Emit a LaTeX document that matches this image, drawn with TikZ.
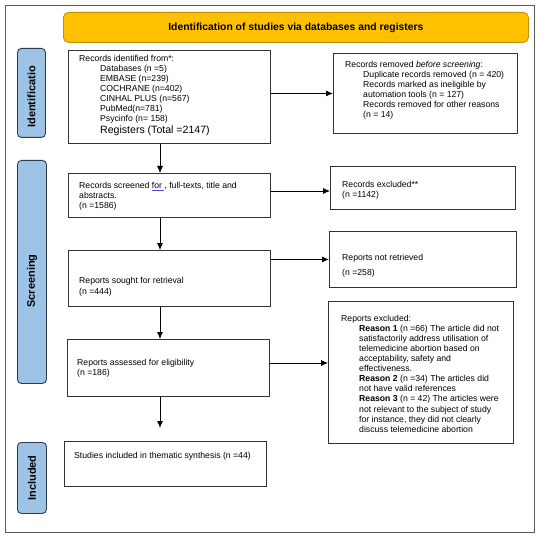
\documentclass[tikz,border=0pt]{standalone}
\usepackage{fontspec}
\setmainfont{Liberation Sans}
\usetikzlibrary{arrows.meta,calc}
\definecolor{banner}{HTML}{FFC000}
\definecolor{bannerline}{HTML}{C09100}
\definecolor{side}{HTML}{9DC3E6}
\definecolor{sideline}{HTML}{2F3B4A}
\definecolor{frameline}{HTML}{595959}
\definecolor{boxline}{HTML}{333333}
\begin{document}
\begin{tikzpicture}[x=1bp,y=-1bp,
  box/.style={draw=boxline, line width=0.9bp, anchor=north west, inner sep=0pt},
  txt/.style={anchor=north west, align=left, inner sep=0pt, font=\fontsize{8.7}{10.1}\selectfont},
  arr/.style={-{Latex[length=7bp,width=6bp]}, line width=0.8bp, draw=black},
  sidebox/.style={draw=sideline, fill=side, rounded corners=4bp, line width=0.9bp, anchor=north west, inner sep=0pt},
  sidetxt/.style={rotate=90, font=\fontsize{11}{13}\selectfont\bfseries, inner sep=0pt}
]
\useasboundingbox (0,0) rectangle (558,539);
% frame
\node[draw=frameline, line width=1bp, anchor=north west, minimum width=529bp, minimum height=527bp, inner sep=0pt] (frame) at (5,5) {};
% banner
\node[draw=bannerline, fill=banner, rounded corners=5bp, line width=0.8bp, anchor=north west, minimum width=465bp, minimum height=30bp, inner sep=0pt, font=\fontsize{10.4}{12}\selectfont\bfseries] (banner) at (63,12) {Identification of studies via databases and registers};
% side labels
\node[sidebox, minimum width=28bp, minimum height=89bp] (sid) at (17,48) {};
\node[sidetxt] (sidt) at ($(sid.center)+(0,4)$) {Identificatio};
\node[sidebox, minimum width=29bp, minimum height=223bp] (sscr) at (17,160) {};
\node[sidetxt] (sscrt) at ($(sscr.center)+(0,9)$) {Screening};
\node[sidebox, minimum width=29bp, minimum height=71bp] (sinc) at (17,442) {};
\node[sidetxt] (sinct) at (sinc.center) {Included};
% boxes
\node[box, minimum width=202bp, minimum height=93bp] (b1) at (68,50) {};
\node[box, minimum width=184bp, minimum height=80bp] (b2) at (333,53) {};
\node[box, minimum width=202bp, minimum height=44bp] (b3) at (68,173) {};
\node[box, minimum width=185bp, minimum height=43bp] (b4) at (330,166) {};
\node[box, minimum width=202bp, minimum height=56bp] (b5) at (68,250) {};
\node[box, minimum width=187bp, minimum height=56bp] (b6) at (329,231) {};
\node[box, minimum width=202bp, minimum height=57bp] (b7) at (67,339) {};
\node[box, minimum width=185bp, minimum height=142bp] (b8) at (328,301) {};
\node[box, minimum width=202bp, minimum height=45bp] (b9) at (64,441) {};
% texts
\node[txt] (t1) at (79,55) {Records identified from*:\\
\hspace*{21bp}Databases (n =5)\\
\hspace*{21bp}EMBASE (n=239)\\
\hspace*{21bp}COCHRANE (n=402)\\
\hspace*{21bp}CINHAL PLUS (n=567)\\
\hspace*{21bp}PubMed(n=781)\\
\hspace*{21bp}Psycinfo (n= 158)\\[2bp]
\hspace*{21bp}{\fontsize{10.6}{12}\selectfont Registers (Total =2147)}};
\node[txt] (t2) at (345,61) {Records removed \textit{before screening}:\\
\hspace*{18bp}Duplicate records removed (n = 420)\\
\hspace*{18bp}Records marked as ineligible by\\
\hspace*{18bp}automation tools (n = 127)\\
\hspace*{18bp}Records removed for other reasons\\
\hspace*{18bp}(n = 14)};
\node[txt] (t3) at (79,182) {Records screened {\color{blue!70!white}\underline{\textcolor{black}{for\ }}}, full-texts, title and\\abstracts.\\(n =1586)};
\node[txt] (t4) at (342,181) {Records excluded**\\(n =1142)};
\node[txt] (t5) at (342,254) {Reports not retrieved\\[5bp](n =258)};
\node[txt] (t6) at (79,277) {Reports sought for retrieval\\[1bp](n =444)};
\node[txt] (t7) at (77,359) {Reports assessed for eligibility\\(n =186)};
\node[txt] (t8) at (341,315) {Reports excluded:\\
\hspace*{18bp}\textbf{Reason 1} (n =66) The article did not\\
\hspace*{18bp}satisfactorily address utilisation of\\
\hspace*{18bp}telemedicine abortion based on\\
\hspace*{18bp}acceptability, safety and\\
\hspace*{18bp}effectiveness.\\
\hspace*{18bp}\textbf{Reason 2} (n =34) The articles did\\
\hspace*{18bp}not have valid references\\
\hspace*{18bp}\textbf{Reason 3} (n = 42) The articles were\\
\hspace*{18bp}not relevant to the subject of study\\
\hspace*{18bp}for instance, they did not clearly\\
\hspace*{18bp}discuss telemedicine abortion};
\node[txt] (t9) at (74,452) {Studies included in thematic synthesis (n =44)};
% connectors
\coordinate (colx) at (160,0);
\coordinate (r2) at (0,191);
\coordinate (r4) at (0,363);
\coordinate (endin) at (160,428);
\draw[arr] (b1.south -| colx) -- (b3.north -| colx);
\draw[arr] (b3.south -| colx) -- (b5.north -| colx);
\draw[arr] (b5.south -| colx) -- (b7.north -| colx);
\draw[arr] (b7.south -| colx) -- (endin);
\draw[arr] (b1.east |- b2.west) -- (b2.west);
\draw[arr] (b3.east |- r2) -- (b4.west |- r2);
\draw[arr] (b5.east |- b6.west) -- (b6.west);
\draw[arr] (b7.east |- r4) -- (b8.west |- r4);
\end{tikzpicture}
\end{document}
